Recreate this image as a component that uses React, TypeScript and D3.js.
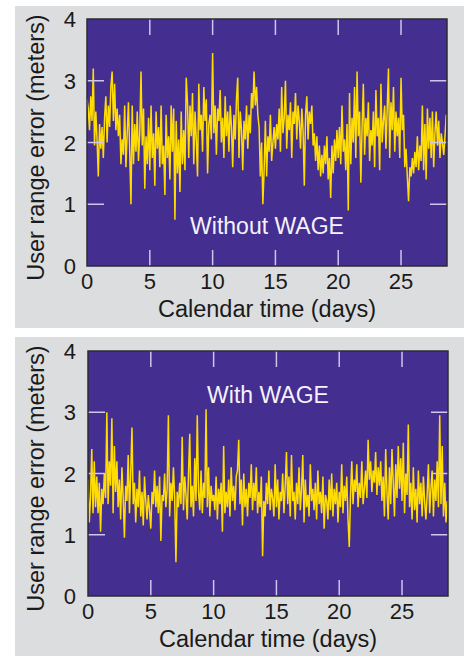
import React from 'react';
import * as d3 from 'd3';

// samples every 0.1 day, user range error in meters
const SAMPLE_STEP = 0.1;

const withoutWage = [
  2.7, 2.55, 2.2, 2.75, 2.35, 3.2, 1.95, 2.5, 2.05, 1.45,
  2.3, 1.9, 2.25, 1.75, 2.4, 2.75, 2.0, 2.6, 2.25, 2.9,
  3.15, 2.35, 2.95, 2.2, 2.55, 2.1, 2.45, 1.65, 2.05, 1.8,
  2.6, 1.6, 2.15, 2.65, 1.85, 1.0, 2.6, 1.65, 2.3, 1.85,
  2.5, 1.7, 2.15, 3.15, 1.95, 2.55, 1.25, 2.1, 1.65, 2.4,
  1.55, 2.6, 1.75, 2.15, 1.3, 2.5, 1.9, 2.25, 1.6, 2.6,
  1.65, 1.95, 1.15, 2.45, 1.75, 2.1, 1.4, 2.6, 1.85, 2.55,
  0.75, 2.35, 1.5, 2.05, 1.2, 2.5, 1.65, 2.2, 1.55, 3.05,
  2.65, 1.75, 2.6, 2.1, 2.8, 1.65, 2.5, 2.05, 1.45, 2.95,
  2.2, 2.45, 1.85, 2.9, 2.35, 2.7, 1.5, 2.3, 2.45, 2.05,
  3.45, 2.15, 2.6, 1.8, 2.55, 2.35, 2.85, 2.0, 2.4, 1.75,
  2.75, 2.1, 2.5, 1.85, 2.6, 2.25, 1.6, 2.45, 2.05, 2.7,
  3.05, 1.75, 2.5, 2.2, 1.55, 2.35, 2.05, 2.6, 1.9, 2.45,
  2.15, 2.8, 2.55, 3.15, 2.6, 2.9, 2.45, 2.25, 1.45, 2.0,
  1.0, 1.55, 2.35, 1.45, 2.1, 1.85, 2.45, 1.7, 2.0, 2.25,
  1.9, 2.3, 2.05, 2.55, 1.85, 2.9, 2.15, 2.4, 3.0, 1.9,
  2.45, 2.2, 2.65, 1.75, 2.5, 2.3, 2.8, 2.05, 2.6, 2.35,
  1.9, 2.55, 2.2, 1.3, 2.45, 2.75, 2.05, 2.5, 2.3, 2.6,
  1.95, 2.15, 1.7, 2.1, 1.55, 1.95, 1.45, 1.8, 1.5, 1.95,
  1.65, 2.1, 1.4, 1.75, 1.1, 1.95, 1.5, 2.05, 1.7, 2.2,
  1.75, 2.25, 1.65, 2.6, 1.85, 2.05, 1.55, 2.3, 0.9, 2.8,
  1.65, 2.4, 2.0, 2.9, 1.75, 3.15, 2.1, 2.5, 1.35, 2.25,
  2.95, 1.8, 2.4, 2.1, 2.65, 1.7, 2.2, 1.95, 2.5, 1.6,
  2.85, 2.1, 2.4, 1.55, 2.95, 2.0, 2.35, 2.6, 1.9, 2.55,
  3.2, 1.75, 2.65, 2.2, 2.9, 1.85, 2.5, 2.1, 2.4, 1.75,
  3.05, 2.2, 2.45, 1.6, 1.9, 1.45, 1.05, 1.6, 1.45, 1.75,
  1.5, 1.85, 1.6, 2.1, 1.55, 1.95, 1.7, 2.6, 1.55, 2.3,
  1.4, 2.55, 1.9, 2.4, 1.75, 2.5, 1.6, 2.15, 2.5, 1.95,
  2.35, 1.75, 2.15, 2.0, 1.8, 2.1, 2.45,
];

const withWage = [
  1.9, 1.2, 1.6, 2.4, 1.35, 2.2, 1.45, 1.95, 1.35, 1.85,
  1.05, 1.75, 1.5, 2.0, 1.6, 3.0, 1.5, 2.2, 1.8, 2.9,
  1.35, 2.45, 1.7, 2.2, 1.45, 1.9, 1.25, 2.1, 1.6, 0.95,
  1.8, 1.55, 2.3, 1.35, 2.0, 2.75, 1.5, 1.85, 1.2, 1.75,
  1.45, 2.05, 1.3, 1.7, 1.15, 1.95, 1.55, 1.25, 1.65, 1.4,
  1.1, 1.7, 1.5, 2.05, 1.45, 1.8, 1.35, 1.95, 0.9, 1.65,
  1.55, 2.0, 1.45, 1.75, 2.95, 1.3, 1.85, 1.55, 2.1, 1.6,
  0.55, 1.7, 1.45, 1.85, 1.5, 2.6, 1.4, 1.95, 1.65, 1.25,
  2.0, 2.65, 1.45, 1.8, 1.3, 2.25, 1.55, 2.95, 1.7, 1.4,
  2.05, 1.35, 1.85, 1.6, 3.05, 1.45, 2.1, 1.3, 1.8, 1.55,
  1.65, 1.4, 1.95, 1.25, 1.75, 1.5, 1.85, 1.05, 2.45, 1.35,
  1.7, 1.45, 1.9, 1.3, 2.1, 1.55, 1.8, 1.4, 1.95, 2.05,
  2.55, 1.5, 1.9, 1.15, 2.0, 1.45, 1.75, 1.3, 1.85, 1.6,
  2.15, 1.4, 1.85, 1.55, 2.1, 1.35, 1.7, 1.45, 1.95, 0.65,
  1.55, 1.3, 1.85, 1.5, 2.05, 1.4, 1.75, 1.6, 1.3, 2.15,
  1.45, 1.9, 1.25, 1.7, 1.55, 2.0, 1.35, 1.8, 2.35, 1.5,
  1.95, 1.3, 2.3, 1.55, 1.7, 1.25, 1.85, 1.5, 2.1, 1.4,
  1.75, 2.3, 1.2, 1.9, 1.45, 1.65, 1.3, 2.15, 1.55, 1.75,
  1.4, 1.85, 1.25, 2.05, 1.5, 1.7, 1.35, 1.95, 1.1, 1.65,
  1.55, 1.25, 1.9, 1.4, 2.0, 1.3, 1.75, 1.5, 1.85, 1.2,
  1.7, 1.45, 2.15, 1.35, 1.8, 1.55, 1.95, 1.25, 0.8, 1.65,
  2.2, 1.5, 1.9, 1.7, 2.15, 1.45, 1.85, 1.6, 2.2, 1.5,
  1.75, 2.05, 1.6, 2.55, 1.9, 2.2, 1.7, 2.05, 1.85, 2.35,
  1.65, 2.1, 1.8, 2.2, 1.55, 1.95, 1.3, 2.4, 1.7, 1.25,
  2.1, 1.5, 2.4, 1.85, 1.3, 2.15, 1.6, 2.45, 1.75, 2.25,
  1.55, 2.5, 1.35, 2.0, 1.65, 2.8, 1.45, 1.85, 1.25, 2.1,
  1.4, 1.75, 1.2, 2.05, 1.5, 1.85, 1.3, 1.95, 1.55, 1.25,
  1.65, 2.15, 1.35, 1.75, 2.05, 1.3, 1.9, 1.55, 2.2, 1.45,
  2.95, 1.5, 2.45, 1.3, 1.85, 1.2, 1.55,
];

const xTicks = [0, 5, 10, 15, 20, 25];
const yTicks = [0, 1, 2, 3, 4];
const xMax = 28.66;

const FONT = '"Liberation Sans", Arial, Helvetica, sans-serif';
const PURPLE = '#442e90';
const YELLOW = '#ffdd00';
const TICK = '#cdc6ee';

const Panel = ({ id, values, label, bg, plot, labelY }) => {
  const x = d3.scaleLinear().domain([0, xMax]).range([plot.left, plot.right]);
  const y = d3.scaleLinear().domain([0, 4]).range([plot.bottom, plot.top]);
  const line = d3
    .line<number>()
    .x((d, i) => x(i * SAMPLE_STEP))
    .y(d => y(d));

  const midX = (plot.left + plot.right) / 2;
  const midY = (plot.top + plot.bottom) / 2;

  return (
    <g>
      <rect x={bg.x} y={bg.y} width={bg.w} height={bg.h} fill="#dcdddf" />
      <clipPath id={id}>
        <rect x={plot.left} y={plot.top} width={plot.right - plot.left} height={plot.bottom - plot.top} />
      </clipPath>
      <rect x={plot.left} y={plot.top} width={plot.right - plot.left} height={plot.bottom - plot.top} fill={PURPLE} />
      <path d={line(values)} fill="none" stroke={YELLOW} strokeWidth={1.5} clipPath={`url(#${id})`} />

      {/* inner ticks */}
      {xTicks.filter(t => t > 0).map(t => (
        <g key={'xt' + t} stroke={TICK} strokeWidth={1.5}>
          <line x1={x(t)} x2={x(t)} y1={plot.top} y2={plot.top + 16} />
          <line x1={x(t)} x2={x(t)} y1={plot.bottom} y2={plot.bottom - 16} />
        </g>
      ))}
      {yTicks.filter(t => t > 0 && t < 4).map(t => (
        <g key={'yt' + t} stroke={TICK} strokeWidth={1.5}>
          <line x1={plot.left} x2={plot.left + 17} y1={y(t)} y2={y(t)} />
          <line x1={plot.right} x2={plot.right - 17} y1={y(t)} y2={y(t)} />
        </g>
      ))}
      <rect x={plot.left} y={plot.top} width={plot.right - plot.left} height={plot.bottom - plot.top} fill="none" stroke="#2b2b33" strokeWidth={1.5} />

      <g fontFamily={FONT} fontSize={22} fill="#1a1a1a">
        {xTicks.map(t => (
          <text key={'xl' + t} x={x(t)} y={plot.bottom + 23} textAnchor="middle">{t}</text>
        ))}
        {yTicks.map(t => (
          <text key={'yl' + t} x={76} y={y(t) + 8} textAnchor="end">{t}</text>
        ))}
      </g>
      <text x={midX} y={plot.bottom + 51} textAnchor="middle" fontFamily={FONT} fontSize={23.5} fill="#1a1a1a">
        Calendar time (days)
      </text>
      <text transform={`translate(44,${midY + 5}) rotate(-90)`} textAnchor="middle" fontFamily={FONT} fontSize={23.5} fill="#1a1a1a">
        User range error (meters)
      </text>
      <text x={midX} y={labelY} textAnchor="middle" fontFamily={FONT} fontSize={23} fill="#f4f2fb">
        {label}
      </text>
    </g>
  );
};

export default function App() {
  return (
    <svg width={464} height={656} style={{ position: 'absolute', left: 0, top: 0 }}>
      <rect width={464} height={656} fill="#ffffff" />
      <Panel
        id="clipA"
        values={withoutWage}
        label="Without WAGE"
        bg={{ x: 15, y: 6, w: 449, h: 322 }}
        plot={{ left: 87, right: 447, top: 19, bottom: 266 }}
        labelY={234}
      />
      <Panel
        id="clipB"
        values={withWage}
        label="With WAGE"
        bg={{ x: 15, y: 337, w: 449, h: 319 }}
        plot={{ left: 88, right: 448, top: 351, bottom: 596 }}
        labelY={403}
      />
    </svg>
  );
}
